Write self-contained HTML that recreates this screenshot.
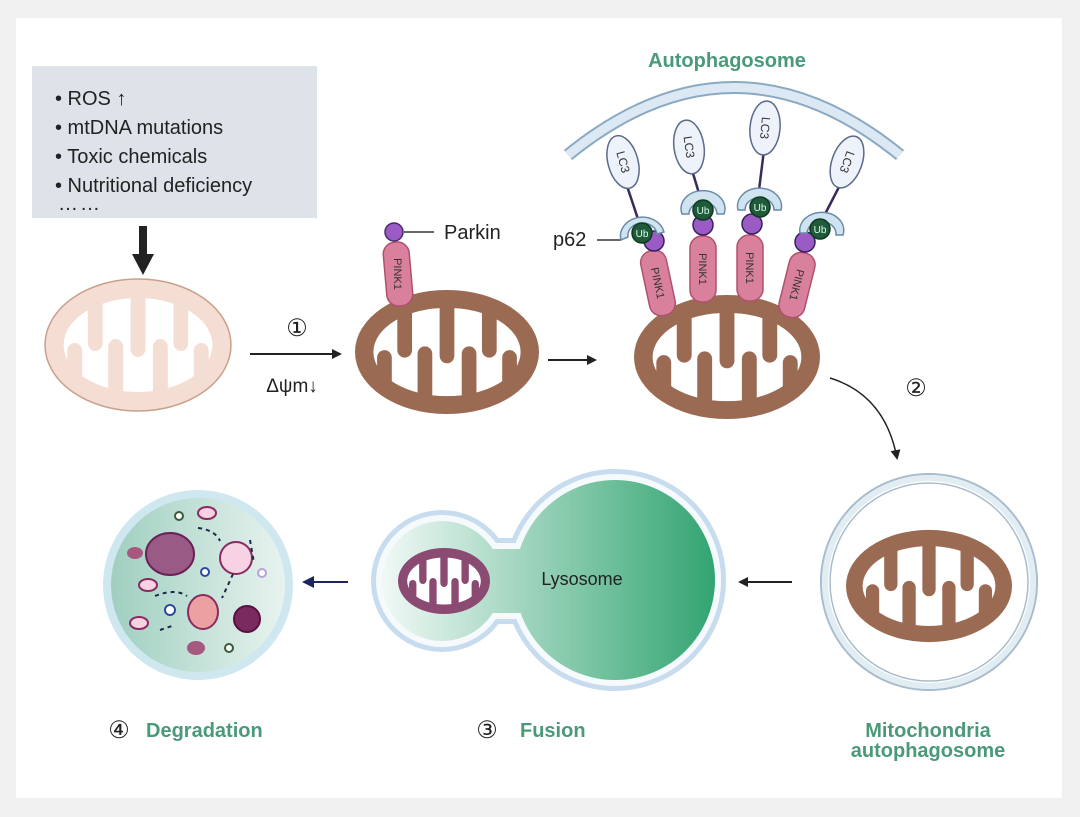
<!DOCTYPE html>
<html><head><meta charset="utf-8"><style>
body{margin:0;background:#f0f0f0;}
svg{display:block;font-family:"Liberation Sans",sans-serif;}
</style></head><body>
<svg width="1080" height="817" viewBox="0 0 1080 817" xmlns="http://www.w3.org/2000/svg">
<defs>
<clipPath id="mc"><ellipse cx="0" cy="0" rx="99" ry="65"/></clipPath>
<g id="mito">
<ellipse cx="0" cy="0" rx="100" ry="66" fill="currentColor"/>
<ellipse cx="0" cy="0" rx="80" ry="47" fill="#fff"/>
<g fill="currentColor" clip-path="url(#mc)">
<rect x="-54" y="-70" width="16" height="76" rx="8"/>
<rect x="-8" y="-70" width="16" height="82" rx="8"/>
<rect x="38" y="-70" width="16" height="76" rx="8"/>
<rect x="-76" y="-2" width="16" height="70" rx="8"/>
<rect x="-32" y="-6" width="16" height="76" rx="8"/>
<rect x="16" y="-6" width="16" height="76" rx="8"/>
<rect x="60" y="-2" width="16" height="70" rx="8"/>
</g>
</g>
<linearGradient id="lys" gradientUnits="userSpaceOnUse" x1="380" y1="0" x2="720" y2="0"><stop offset="0" stop-color="#f2f9f7"/><stop offset="1" stop-color="#2fa36f"/></linearGradient>
<linearGradient id="deg" x1="0" x2="1"><stop offset="0" stop-color="#9fcfc0"/><stop offset="1" stop-color="#e8f3ef"/></linearGradient>
<marker id="ah" markerWidth="10" markerHeight="10" refX="8" refY="5" orient="auto" markerUnits="userSpaceOnUse"><path d="M0,0 L10,5 L0,10 Z" fill="#222"/></marker>
<marker id="ahn" markerWidth="12" markerHeight="12" refX="10" refY="6" orient="auto" markerUnits="userSpaceOnUse"><path d="M0,0 L12,6 L0,12 Z" fill="#1c2560"/></marker>
</defs>
<rect x="16" y="18" width="1046" height="780" fill="#fff"/>

<rect x="32" y="66" width="285" height="152" fill="#dde3e8"/>
<g font-size="20" fill="#222">
<text x="55" y="105">• ROS ↑</text>
<text x="55" y="134">• mtDNA mutations</text>
<text x="55" y="163">• Toxic chemicals</text>
<text x="55" y="192">• Nutritional deficiency</text>
<text x="58" y="210" letter-spacing="2">……</text>
</g>
<rect x="139" y="226" width="8" height="30" fill="#222"/>
<path d="M132,254 L154,254 L143,275 Z" fill="#222"/>

<use href="#mito" transform="translate(138,345) scale(0.93,1)" style="color:#f4ddd2"/>
<ellipse cx="138" cy="345" rx="93" ry="66" fill="none" stroke="#c9a08c" stroke-width="1.5"/>
<use href="#mito" transform="translate(447,352) scale(0.92,0.94)" style="color:#9a6a52"/>
<use href="#mito" transform="translate(727,357) scale(0.93,0.94)" style="color:#9a6a52"/>

<line x1="250" y1="354" x2="340" y2="354" stroke="#222" stroke-width="2" marker-end="url(#ah)"/>
<text x="297" y="336" font-size="24" text-anchor="middle" fill="#222">①</text>
<text x="292" y="392" font-size="19" text-anchor="middle" fill="#222">Δψm↓</text>
<line x1="548" y1="360" x2="595" y2="360" stroke="#222" stroke-width="2" marker-end="url(#ah)"/>

<rect x="385" y="242" width="26" height="64" rx="12" fill="#d9809c" stroke="#b0506f" stroke-width="1.5" transform="rotate(-5 398 274)"/>
<text x="398" y="274" font-size="11" fill="#333" text-anchor="middle" transform="rotate(90 398 274)" dy="4">PINK1</text>
<circle cx="394" cy="232" r="9" fill="#9a5cc4" stroke="#4a2a6a" stroke-width="1.5"/>
<line x1="404" y1="232" x2="434" y2="232" stroke="#333" stroke-width="1.5"/>
<text x="444" y="239" font-size="20" fill="#222">Parkin</text>

<path d="M568,155 Q734,20 900,155" fill="none" stroke="#8aa9c2" stroke-width="13"/>
<path d="M568,155 Q734,20 900,155" fill="none" stroke="#dce9f4" stroke-width="9"/>
<text x="727" y="67" font-size="20" font-weight="bold" fill="#4a9a7a" text-anchor="middle">Autophagosome</text>
<text x="553" y="246" font-size="20" fill="#222">p62</text>
<line x1="597" y1="240" x2="621" y2="240" stroke="#333" stroke-width="1.5"/>

<g stroke-width="1.5">
<line x1="640" y1="225" x2="625" y2="180" stroke="#3a2a5a" stroke-width="2.5"/>
<ellipse cx="623" cy="162" rx="15" ry="27" fill="#eef2fa" stroke="#5a6a8a" transform="rotate(-15 623 162)"/>
<text x="623" y="162" font-size="12" fill="#333" text-anchor="middle" dy="4" transform="rotate(75 623 162)">LC3</text>
<rect x="645" y="250" width="26" height="66" rx="12" fill="#d9809c" stroke="#b0506f" transform="rotate(-12 658 283)"/>
<text x="658" y="283" font-size="11" fill="#333" text-anchor="middle" dy="4" transform="rotate(78 658 283)">PINK1</text>
<circle cx="654" cy="241" r="10" fill="#9a5cc4" stroke="#3a2060"/>
<path d="M621,240 A21,18 0 1 1 664,232 L657,234 A14,12 0 1 0 628,237 Z" fill="#cfe3f0" stroke="#6a8aa8"/>
<circle cx="642" cy="233" r="10" fill="#1f5a3a" stroke="#0f3a20"/>
<text x="642" y="237" font-size="10" fill="#dfe" text-anchor="middle">Ub</text>

<line x1="701" y1="200" x2="692" y2="170" stroke="#3a2a5a" stroke-width="2.5"/>
<ellipse cx="689" cy="147" rx="15" ry="27" fill="#eef2fa" stroke="#5a6a8a" transform="rotate(-8 689 147)"/>
<text x="689" y="147" font-size="12" fill="#333" text-anchor="middle" dy="4" transform="rotate(82 689 147)">LC3</text>
<rect x="690" y="236" width="26" height="66" rx="12" fill="#d9809c" stroke="#b0506f"/>
<text x="703" y="269" font-size="11" fill="#333" text-anchor="middle" dy="4" transform="rotate(90 703 269)">PINK1</text>
<circle cx="703" cy="225" r="10" fill="#9a5cc4" stroke="#3a2060"/>
<path d="M682,214 A22,18 0 1 1 724,214 L717,214 A14,12 0 1 0 689,214 Z" fill="#cfe3f0" stroke="#6a8aa8"/>
<circle cx="703" cy="210" r="10" fill="#1f5a3a" stroke="#0f3a20"/>
<text x="703" y="214" font-size="10" fill="#dfe" text-anchor="middle">Ub</text>

<line x1="758" y1="198" x2="764" y2="150" stroke="#3a2a5a" stroke-width="2.5"/>
<ellipse cx="765" cy="128" rx="15" ry="27" fill="#eef2fa" stroke="#5a6a8a" transform="rotate(5 765 128)"/>
<text x="765" y="128" font-size="12" fill="#333" text-anchor="middle" dy="4" transform="rotate(95 765 128)">LC3</text>
<rect x="737" y="235" width="26" height="66" rx="12" fill="#d9809c" stroke="#b0506f"/>
<text x="750" y="268" font-size="11" fill="#333" text-anchor="middle" dy="4" transform="rotate(90 750 268)">PINK1</text>
<circle cx="752" cy="224" r="10" fill="#9a5cc4" stroke="#3a2060"/>
<path d="M738,210 A22,18 0 1 1 781,210 L774,210 A14,12 0 1 0 745,210 Z" fill="#cfe3f0" stroke="#6a8aa8"/>
<circle cx="760" cy="207" r="10" fill="#1f5a3a" stroke="#0f3a20"/>
<text x="760" y="211" font-size="10" fill="#dfe" text-anchor="middle">Ub</text>

<line x1="822" y1="220" x2="840" y2="185" stroke="#3a2a5a" stroke-width="2.5"/>
<ellipse cx="847" cy="162" rx="15" ry="27" fill="#eef2fa" stroke="#5a6a8a" transform="rotate(20 847 162)"/>
<text x="847" y="162" font-size="12" fill="#333" text-anchor="middle" dy="4" transform="rotate(110 847 162)">LC3</text>
<rect x="784" y="252" width="26" height="66" rx="12" fill="#d9809c" stroke="#b0506f" transform="rotate(14 797 285)"/>
<text x="797" y="285" font-size="11" fill="#333" text-anchor="middle" dy="4" transform="rotate(104 797 285)">PINK1</text>
<circle cx="805" cy="242" r="10" fill="#9a5cc4" stroke="#3a2060"/>
<path d="M800,233 A22,18 0 1 1 843,235 L836,235 A14,12 0 1 0 807,233 Z" fill="#cfe3f0" stroke="#6a8aa8"/>
<circle cx="820" cy="229" r="10" fill="#1f5a3a" stroke="#0f3a20"/>
<text x="820" y="233" font-size="10" fill="#dfe" text-anchor="middle">Ub</text>
</g>

<path d="M830,378 Q885,395 897,458" fill="none" stroke="#222" stroke-width="1.5" marker-end="url(#ah)"/>
<text x="916" y="396" font-size="24" text-anchor="middle" fill="#222">②</text>

<circle cx="929" cy="582" r="108" fill="#fff" stroke="#a8bccb" stroke-width="2"/>
<circle cx="929" cy="582" r="104" fill="#fff" stroke="#e2ecf3" stroke-width="6"/>
<circle cx="929" cy="582" r="99" fill="#fff" stroke="#a8bccb" stroke-width="1.5"/>
<use href="#mito" transform="translate(929,586) scale(0.83,0.85)" style="color:#9a6a52"/>
<text x="928" y="737" font-size="20" font-weight="bold" fill="#4a9a7a" text-anchor="middle">Mitochondria</text>
<text x="928" y="757" font-size="20" font-weight="bold" fill="#4a9a7a" text-anchor="middle">autophagosome</text>

<line x1="792" y1="582" x2="740" y2="582" stroke="#222" stroke-width="2" marker-end="url(#ah)"/>

<g fill="#c8dcef">
<circle cx="442" cy="581" r="71"/><circle cx="615" cy="580" r="111"/><rect x="480" y="538" width="60" height="86"/>
</g>
<g fill="#f6fafd">
<circle cx="442" cy="581" r="66"/><circle cx="615" cy="580" r="106"/><rect x="480" y="543" width="60" height="76"/>
</g>
<g fill="url(#lys)">
<circle cx="442" cy="581" r="60"/><circle cx="615" cy="580" r="100"/><rect x="480" y="549" width="60" height="64"/>
</g>
<use href="#mito" transform="translate(444,581) scale(0.46,0.5)" style="color:#8a4a72"/>
<text x="582" y="585" font-size="18" fill="#222" text-anchor="middle">Lysosome</text>
<text x="487" y="738" font-size="24" fill="#222" text-anchor="middle">③</text>
<text x="520" y="737" font-size="20" font-weight="bold" fill="#4a9a7a">Fusion</text>

<line x1="348" y1="582" x2="304" y2="582" stroke="#1c2560" stroke-width="2" marker-end="url(#ahn)"/>

<circle cx="198" cy="585" r="95" fill="#cfe8ef"/>
<circle cx="198" cy="585" r="87" fill="url(#deg)"/>
<g stroke-width="2">
<ellipse cx="170" cy="554" rx="24" ry="21" fill="#9a5a86" stroke="#6a1f55"/>
<ellipse cx="236" cy="558" rx="16" ry="16" fill="#f6d2e2" stroke="#8a2a60"/>
<ellipse cx="203" cy="612" rx="15" ry="17" fill="#eba0a2" stroke="#8a2a60"/>
<ellipse cx="247" cy="619" rx="13" ry="13" fill="#7a2a5e" stroke="#5a1040"/>
<ellipse cx="135" cy="553" rx="8" ry="6" fill="#a6587e"/>
<ellipse cx="196" cy="648" rx="9" ry="7" fill="#a6587e"/>
<ellipse cx="207" cy="513" rx="9" ry="6" fill="#f6d2e2" stroke="#8a2a60"/>
<ellipse cx="148" cy="585" rx="9" ry="6" fill="#f6d2e2" stroke="#8a2a60"/>
<ellipse cx="139" cy="623" rx="9" ry="6" fill="#f6d2e2" stroke="#8a2a60"/>
<circle cx="205" cy="572" r="4" fill="#fff" stroke="#2a4aa0"/>
<circle cx="170" cy="610" r="5" fill="#fff" stroke="#2a4aa0"/>
<circle cx="179" cy="516" r="4" fill="#fff" stroke="#3a5a3a"/>
<circle cx="229" cy="648" r="4" fill="#fff" stroke="#3a5a3a"/>
<circle cx="262" cy="573" r="4" fill="#fff" stroke="#b9a0d9"/>
</g>
<g fill="none" stroke="#1a2a4a" stroke-width="2" stroke-dasharray="4,4">
<path d="M198,528 Q215,530 220,541"/>
<path d="M250,540 L254,563"/>
<path d="M155,596 Q175,588 187,596"/>
<path d="M160,630 L175,625"/>
<path d="M233,574 L222,598"/>
</g>
<text x="119" y="738" font-size="24" fill="#222" text-anchor="middle">④</text>
<text x="146" y="737" font-size="20" font-weight="bold" fill="#4a9a7a">Degradation</text>
</svg>
</body></html>
